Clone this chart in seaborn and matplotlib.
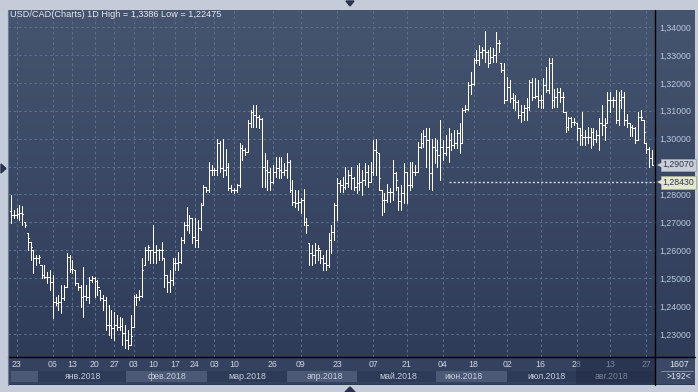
import numpy as np
import pandas as pd
import matplotlib
matplotlib.use("Agg")
import matplotlib.pyplot as plt
import seaborn as sns
from matplotlib.patches import Rectangle, Polygon
from matplotlib.lines import Line2D
from matplotlib.colors import LinearSegmentedColormap
from matplotlib.transforms import blended_transform_factory

sns.set_theme(style="dark")
plt.rcParams['font.family'] = ['Liberation Sans', 'DejaVu Sans']

# ---------------- data (USD/CAD daily OHLC) ----------------
open_ = [1.2741,1.2727,1.2726,1.2730,1.2733,1.2701,1.2662,1.2630,1.2601,1.2572,
         1.2572,1.2547,1.2511,1.2504,1.2504,1.2486,1.2415,1.2411,1.2415,1.2429,
         1.2468,1.2576,1.2533,1.2529,1.2483,1.2468,1.2433,1.2436,1.2433,1.2493,
         1.2501,1.2490,1.2458,1.2429,1.2422,1.2332,1.2332,1.2321,1.2332,1.2325,
         1.2329,1.2304,1.2279,1.2261,1.2325,1.2433,1.2433,1.2436,1.2547,1.2601,
         1.2601,1.2601,1.2594,1.2601,1.2601,1.2572,1.2511,1.2486,1.2493,1.2554,
         1.2554,1.2558,1.2637,1.2690,1.2690,1.2716,1.2648,1.2637,1.2680,1.2762,
         1.2827,1.2816,1.2888,1.2888,1.2888,1.2984,1.2895,1.2888,1.2898,1.2823,
         1.2816,1.2816,1.2834,1.2967,1.2959,1.2952,1.3056,1.3096,1.3085,1.3078,
         1.3070,1.2898,1.2888,1.2880,1.2845,1.2880,1.2895,1.2888,1.2880,1.2888,
         1.2916,1.2816,1.2773,1.2769,1.2773,1.2780,1.2701,1.2626,1.2590,1.2583,
         1.2601,1.2601,1.2572,1.2554,1.2547,1.2637,1.2665,1.2762,1.2841,1.2834,
         1.2827,1.2841,1.2870,1.2859,1.2827,1.2841,1.2845,1.2852,1.2880,1.2845,
         1.2880,1.2959,1.2949,1.2816,1.2780,1.2780,1.2809,1.2809,1.2877,1.2827,
         1.2777,1.2805,1.2880,1.2834,1.2834,1.2880,1.2881,1.2970,1.2984,1.3009,
         1.2995,1.2877,1.2970,1.2959,1.2941,1.2970,1.2948,1.2970,1.2995,1.2977,
         1.2984,1.3020,1.2984,1.3103,1.3106,1.3192,1.3196,1.3282,1.3282,1.3310,
         1.3318,1.3310,1.3271,1.3292,1.3300,1.3343,1.3271,1.3246,1.3138,1.3185,
         1.3146,1.3138,1.3131,1.3085,1.3096,1.3110,1.3113,1.3203,1.3149,1.3153,
         1.3138,1.3138,1.3192,1.3174,1.3271,1.3138,1.3149,1.3167,1.3149,1.3096,
         1.3042,1.3074,1.3060,1.3056,1.3038,1.3013,1.3006,1.3006,1.3006,1.3024,
         1.3000,1.3013,1.3056,1.3049,1.3056,1.3138,1.3138,1.3138,1.3067,1.3138,
         1.3149,1.3067,1.3056,1.3042,1.3038,1.2995,1.3078,1.3067,1.2984,1.2963,
         1.2931]
high = [1.2798,1.2744,1.2751,1.2762,1.2759,1.2701,1.2662,1.2630,1.2601,1.2583,
        1.2583,1.2547,1.2547,1.2522,1.2529,1.2511,1.2433,1.2440,1.2475,1.2475,
        1.2590,1.2583,1.2565,1.2529,1.2483,1.2475,1.2540,1.2475,1.2504,1.2508,
        1.2504,1.2493,1.2458,1.2440,1.2433,1.2404,1.2386,1.2379,1.2368,1.2361,
        1.2357,1.2332,1.2314,1.2368,1.2440,1.2444,1.2458,1.2572,1.2612,1.2619,
        1.2601,1.2690,1.2619,1.2605,1.2630,1.2572,1.2511,1.2529,1.2572,1.2572,
        1.2594,1.2648,1.2701,1.2755,1.2726,1.2716,1.2716,1.2708,1.2769,1.2834,
        1.2827,1.2916,1.2906,1.2895,1.2999,1.2992,1.2999,1.2963,1.2913,1.2834,
        1.2823,1.2838,1.2984,1.2977,1.2967,1.3067,1.3103,1.3120,1.3120,1.3085,
        1.3074,1.2949,1.2923,1.2895,1.2906,1.2934,1.2934,1.2934,1.2913,1.2949,
        1.2923,1.2852,1.2816,1.2816,1.2788,1.2820,1.2716,1.2626,1.2619,1.2626,
        1.2619,1.2601,1.2583,1.2601,1.2662,1.2690,1.2769,1.2859,1.2852,1.2863,
        1.2898,1.2888,1.2898,1.2863,1.2906,1.2913,1.2888,1.2913,1.2906,1.2916,
        1.2995,1.2999,1.2949,1.2816,1.2805,1.2838,1.2823,1.2923,1.2881,1.2827,
        1.2834,1.2913,1.2881,1.2916,1.2916,1.2906,1.2988,1.3021,1.3031,1.3038,
        1.3038,1.2999,1.3003,1.2995,1.3067,1.2995,1.3013,1.3038,1.3020,1.3031,
        1.3031,1.3056,1.3110,1.3120,1.3203,1.3239,1.3289,1.3318,1.3336,1.3328,
        1.3386,1.3318,1.3328,1.3325,1.3382,1.3353,1.3271,1.3271,1.3221,1.3210,
        1.3163,1.3156,1.3138,1.3120,1.3120,1.3146,1.3210,1.3217,1.3217,1.3210,
        1.3156,1.3217,1.3257,1.3289,1.3289,1.3178,1.3181,1.3181,1.3167,1.3096,
        1.3078,1.3078,1.3074,1.3056,1.3038,1.3096,1.3031,1.3042,1.3038,1.3038,
        1.3031,1.3074,1.3120,1.3074,1.3167,1.3167,1.3149,1.3174,1.3167,1.3174,
        1.3167,1.3089,1.3056,1.3049,1.3042,1.3096,1.3103,1.3067,1.2984,1.2970,
        1.2959]
low = [1.2698,1.2716,1.2716,1.2708,1.2691,1.2683,1.2601,1.2565,1.2519,1.2547,
       1.2554,1.2501,1.2501,1.2483,1.2458,1.2357,1.2404,1.2386,1.2375,1.2422,
       1.2468,1.2522,1.2519,1.2475,1.2458,1.2397,1.2361,1.2422,1.2411,1.2486,
       1.2433,1.2440,1.2422,1.2386,1.2314,1.2296,1.2286,1.2279,1.2314,1.2314,
       1.2261,1.2250,1.22475,1.2261,1.2325,1.2404,1.2422,1.2433,1.2547,1.2565,
       1.2554,1.2554,1.2554,1.2565,1.2565,1.2468,1.2450,1.2450,1.2475,1.2529,
       1.2529,1.2554,1.2626,1.2673,1.2662,1.2626,1.2612,1.2612,1.2673,1.2762,
       1.2809,1.2809,1.2870,1.2870,1.2870,1.2881,1.2863,1.2870,1.2816,1.2809,
       1.2805,1.2809,1.2827,1.2923,1.2941,1.2952,1.3042,1.3042,1.3042,1.3038,
       1.2827,1.2827,1.2816,1.2816,1.2841,1.2863,1.2859,1.2859,1.2870,1.2859,
       1.2809,1.2762,1.2755,1.2744,1.2734,1.2690,1.2662,1.2547,1.2547,1.2554,
       1.2565,1.2554,1.2529,1.2529,1.2540,1.2590,1.2637,1.2708,1.2809,1.2809,
       1.2820,1.2827,1.2820,1.2816,1.2805,1.2816,1.2798,1.2834,1.2827,1.2845,
       1.2870,1.2870,1.2816,1.2726,1.2737,1.2773,1.2773,1.2780,1.2816,1.2744,
       1.2744,1.2769,1.2769,1.2816,1.2827,1.2870,1.2881,1.2966,1.2970,1.2898,
       1.2820,1.2816,1.2913,1.2898,1.2852,1.2923,1.2941,1.2916,1.2959,1.2966,
       1.2966,1.2949,1.2984,1.3096,1.3103,1.3160,1.3192,1.3271,1.3264,1.3289,
       1.3275,1.3257,1.3271,1.3275,1.3275,1.3310,1.3239,1.3128,1.3138,1.3131,
       1.3110,1.3103,1.3074,1.3060,1.3067,1.3067,1.3103,1.3138,1.3146,1.3113,
       1.3110,1.3110,1.3167,1.3163,1.3110,1.3113,1.3113,1.3131,1.3096,1.3024,
       1.3031,1.3042,1.3049,1.2995,1.2977,1.2977,1.2977,1.2984,1.2966,1.2977,
       1.2988,1.2959,1.3013,1.2995,1.3056,1.3096,1.3113,1.3056,1.3049,1.3110,
       1.3049,1.3042,1.3010,1.3010,1.2984,1.2995,1.3067,1.2984,1.2949,1.2898,
       1.2906]
close = [1.2727,1.2726,1.2730,1.2733,1.2730,1.2691,1.2644,1.2612,1.2572,1.2572,
         1.2576,1.2511,1.2504,1.2504,1.2486,1.2415,1.2411,1.2415,1.2429,1.2468,
         1.2576,1.2533,1.2533,1.2483,1.2468,1.2433,1.2436,1.2433,1.2493,1.2501,
         1.2490,1.2468,1.2429,1.2422,1.2332,1.2332,1.2321,1.2332,1.2325,1.2329,
         1.2304,1.2279,1.2261,1.2293,1.2433,1.2433,1.2436,1.2529,1.2601,1.2612,
         1.2601,1.2594,1.2601,1.2601,1.2601,1.2511,1.2486,1.2493,1.2554,1.2554,
         1.2558,1.2637,1.2690,1.2690,1.2716,1.2648,1.2637,1.2680,1.2762,1.2827,
         1.2816,1.2888,1.2888,1.2888,1.2984,1.2895,1.2888,1.2898,1.2823,1.2816,
         1.2816,1.2834,1.2967,1.2959,1.2952,1.3056,1.3096,1.3085,1.3078,1.3070,
         1.2898,1.2888,1.2880,1.2845,1.2880,1.2895,1.2888,1.2880,1.2888,1.2916,
         1.2816,1.2773,1.2769,1.2773,1.2780,1.2701,1.2690,1.2590,1.2583,1.2601,
         1.2608,1.2572,1.2554,1.2547,1.2637,1.2665,1.2762,1.2841,1.2834,1.2827,
         1.2841,1.2870,1.2859,1.2827,1.2841,1.2845,1.2852,1.2880,1.2845,1.2880,
         1.2959,1.2952,1.2859,1.2780,1.2780,1.2809,1.2809,1.2877,1.2852,1.2777,
         1.2805,1.2880,1.2834,1.2834,1.2880,1.2880,1.2970,1.2984,1.3009,1.2995,
         1.2877,1.2970,1.2959,1.2941,1.2970,1.2948,1.2970,1.2995,1.2977,1.2984,
         1.3020,1.2984,1.3103,1.3106,1.3192,1.3196,1.3282,1.3282,1.3310,1.3318,
         1.3310,1.3271,1.3292,1.3300,1.3343,1.3343,1.3246,1.3138,1.3185,1.3146,
         1.3138,1.3131,1.3085,1.3096,1.3110,1.3113,1.3203,1.3149,1.3153,1.3138,
         1.3138,1.3192,1.3174,1.3271,1.3138,1.3149,1.3167,1.3149,1.3149,1.3042,
         1.3074,1.3060,1.3060,1.3038,1.3013,1.3006,1.3006,1.3006,1.3024,1.3000,
         1.3013,1.3056,1.3049,1.3042,1.3138,1.3138,1.3138,1.3067,1.3138,1.3149,
         1.3067,1.3056,1.3042,1.3038,1.2995,1.3078,1.3078,1.3024,1.2963,1.2931,
         1.2907]

title = "USD/CAD(Charts) 1D High = 1,3386 Low = 1,22475"
price_ticks = [1.23, 1.24, 1.25, 1.26, 1.27, 1.28, 1.29, 1.30, 1.31, 1.32, 1.33, 1.34]
price_labelled = [1.23, 1.24, 1.25, 1.26, 1.27, 1.28, 1.30, 1.31, 1.32, 1.33, 1.34]
tick_idx = [2, 15, 22, 30, 37, 44, 51, 59, 66, 73, 80, 94, 104, 117, 130, 142,
            155, 166, 178, 190, 203, 215, 228]
tick_lbl = ["23", "06", "13", "20", "27", "03", "10", "17", "24", "03", "10", "26",
            "09", "23", "07", "21", "04", "18", "02", "16", "28", "13", "27"]
month_lbl = ["янв.2018", "фев.2018", "мар.2018", "апр.2018", "май.2018",
             "июн.2018", "июл.2018", "авг.2018"]
month_mid = [25.8, 56.0, 84.7, 112.7, 138.9, 162.5, 192.0, 215.3]
month_edges = [0, 9.7, 41.3, 70.3, 99.0, 124.1, 152.5, 178.0, 202.7, 231.1]
last_price = 1.2907
ref_level = 1.2843
ref_start = 157
bars_count = "1607"
bars_visible = ">192<"

df = pd.DataFrame({"open": open_, "high": high, "low": low, "close": close})
df["idx"] = np.arange(len(df))

# ---------------- layout ----------------
W, H = 698, 392
fig = plt.figure(figsize=(W / 100, H / 100), dpi=100, facecolor="#c4ccda")

def fx(px):
    return px / W

def fy(py):
    return 1 - py / H

# gradient background for chart + axis panel
bg = fig.add_axes([fx(8), fy(385), fx(695 - 8), (385 - 10) / H])
bg.set_axis_off()
grad = np.linspace(0, 1, 256).reshape(-1, 1)
cmap = LinearSegmentedColormap.from_list("g", ["#45546f", "#2c3a58"])
bg.imshow(grad, aspect="auto", cmap=cmap, extent=[0, 1, 0, 1], origin="upper")

# main chart axes
ax = fig.add_axes([fx(8), fy(357), fx(647), 347 / H])
ax.set_facecolor("none")
n = len(df)
xmin, xmax = -1.08, n - 1 + 1.08
ax.set_xlim(xmin, xmax)
ax.set_ylim(1.22176, 1.34609)
for s in ax.spines.values():
    s.set_visible(False)

grid_kw = dict(colors="#5e6d8c", linewidth=0.75, linestyles=(0, (2.5, 2.5)), zorder=1)
ax.hlines(price_ticks, xmin, xmax, **grid_kw)
ax.vlines(tick_idx, 1.22176, 1.34609, **grid_kw)

# OHLC bars
bar_kw = dict(colors="white", linewidth=0.72, antialiased=False, zorder=3)
ax.vlines(df["idx"], df["low"], df["high"], **bar_kw)
ax.hlines(df["open"], df["idx"] - 0.42, df["idx"], **bar_kw)
ax.hlines(df["close"], df["idx"], df["idx"] + 0.42, **bar_kw)

# reference level dashed line
ref_df = pd.DataFrame({"x": [ref_start, xmax], "y": [ref_level, ref_level]})
sns.lineplot(data=ref_df, x="x", y="y", ax=ax, color="#d5dae3", linewidth=1.0,
             linestyle=(0, (1.5, 1.5)), zorder=2)
ax.set_xlabel("")
ax.set_ylabel("")

# y tick labels on the right (1,29000 is covered by the price tag)
ax.yaxis.tick_right()
ax.set_yticks(price_labelled)
ax.set_yticklabels([f"{p:.5f}".replace(".", ",") for p in price_labelled])
ax.tick_params(axis="y", length=0, pad=3, labelsize=6.3, labelcolor="#b9c7de")
ax.set_xticks([])

# price tags on the right axis
tr = blended_transform_factory(ax.transAxes, ax.transData)
for val, fc, ec in [(last_price, "#c9ced8", "#9aa3b4"), (ref_level, "#e4e7cf", "#a9ad96")]:
    ax.text(1.012, val, f"{val:.5f}".replace(".", ","), transform=tr, fontsize=6.3,
            color="#2c3446", va="center", ha="left", zorder=6, clip_on=False,
            bbox=dict(boxstyle="square,pad=0.18", fc=fc, ec=ec, lw=0.6))
    ax.plot([1.007], [val], marker="<", markersize=4.5, color=fc, transform=tr,
            clip_on=False, zorder=6, markeredgewidth=0)

# title
fig.text(fx(10), fy(14.5), title, color="#e4e9f2", fontsize=6.6, va="center", ha="left")

# ---------------- date axis panel ----------------
xa = fig.add_axes([fx(8), fy(384), fx(647), 27 / H])
xa.set_xlim(xmin, xmax)
xa.set_ylim(0, 1)
xa.set_axis_off()
xa.add_patch(Rectangle((xmin, 0), xmax - xmin, 1, color="#34425f", zorder=0))
for k in range(len(month_edges) - 1):
    col = "#4b5976" if k % 2 == 0 else "#2e3b58"
    if k == len(month_edges) - 2:
        col = "#2e3b58"
    xa.add_patch(Rectangle((month_edges[k], 0.06), month_edges[k + 1] - month_edges[k],
                           0.42, color=col, zorder=1, lw=0))
for t, lab in zip(tick_idx, tick_lbl):
    xa.text(t, 0.73, lab, ha="center", va="center", fontsize=6.3, color="#cdd5e3", zorder=2)
for m, lab in zip(month_mid, month_lbl):
    xa.text(m, 0.28, lab, ha="center", va="center", fontsize=6.3, color="#c5cddc", zorder=2)
# last month dimmed
xa.add_patch(Rectangle((month_edges[-2], 0), xmax - month_edges[-2], 1,
                       color="#1c2640", alpha=0.45, zorder=3, lw=0))

# bottom-right info box
ib = fig.add_axes([fx(655), fy(384), fx(40), 27 / H])
ib.set_axis_off()
ib.set_xlim(0, 1)
ib.set_ylim(0, 1)
ib.add_patch(Rectangle((0, 0), 1, 1, color="#3b4966", lw=0))
ib.text(0.6, 0.74, bars_count, ha="center", va="center", fontsize=6.3, color="#e1e6ef")
ib.text(0.6, 0.27, bars_visible, ha="center", va="center", fontsize=6.3, color="#e1e6ef")
ib.plot([0.15, 0.95], [0.5, 0.5], color="#8d98ad", lw=0.6)

# separator lines
fig.add_artist(Line2D([fx(655), fx(655)], [fy(10), fy(385)], color="black", lw=1.0))
fig.add_artist(Line2D([fx(8), fx(695)], [fy(357), fy(357)], color="black", lw=1.0))
fig.add_artist(Line2D([fx(8), fx(8)], [fy(10), fy(385)], color="#6f7b92", lw=0.8))

# frame arrows
arrow_col = "#283248"
for pts in ([(346, 1), (354, 1), (350, 6)], [(1, 164), (1, 173), (6, 168.5)],
            [(345, 392), (355, 392), (350, 387)]):
    fig.add_artist(Polygon([(fx(a), fy(b)) for a, b in pts], closed=True,
                           transform=fig.transFigure, color=arrow_col))

fig.savefig("out.png", dpi=100, facecolor=fig.get_facecolor())
